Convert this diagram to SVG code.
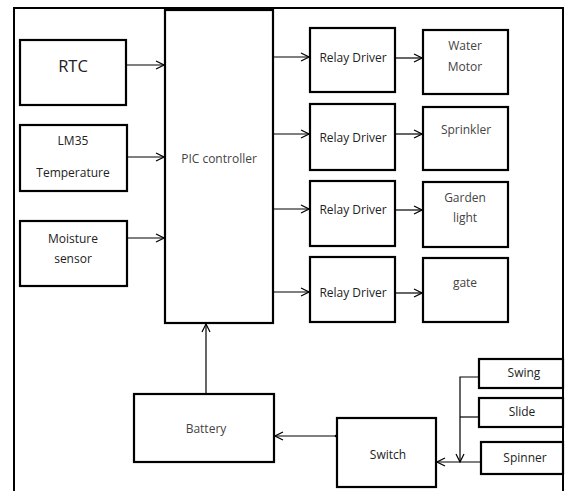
<svg xmlns="http://www.w3.org/2000/svg" width="565" height="491" viewBox="0 0 565 491">
<defs>
<style>
.box{fill:#fff;stroke:#000;stroke-width:2.2}
.t{font-family:"Open Sans","Liberation Sans",sans-serif;font-size:12px;fill:#222;text-anchor:middle}
.g{fill:#444}
.c{fill:none;stroke:#000;stroke-width:1.2}
</style>
<marker id="a" markerWidth="10" markerHeight="10" refX="9" refY="5" orient="auto" markerUnits="userSpaceOnUse">
<polyline points="1,1 9,5 1,9" fill="none" stroke="#000" stroke-width="1.2"/>
</marker>
</defs>
<rect width="565" height="491" fill="#fff"/>
<polyline points="14,491 14,8 563,8 563,491" fill="none" stroke="#000" stroke-width="2"/>

<g id="rtc"><rect class="box" x="20" y="40" width="106" height="65"/><text class="t" x="73" y="72" style="font-size:16.5px">RTC</text></g>
<g id="lm35"><rect class="box" x="20" y="125" width="107" height="66"/><text class="t" x="73" y="145">LM35</text><text class="t" x="73" y="177">Temperature</text></g>
<g id="moisture"><rect class="box" x="20" y="221" width="107" height="65"/><text class="t" x="73" y="243">Moisture</text><text class="t" x="73" y="263">sensor</text></g>
<g id="pic"><rect class="box" x="165" y="10" width="108" height="313"/><text class="t g" x="219" y="163">PIC controller</text></g>

<g id="relay1"><rect class="box" x="310" y="28" width="85" height="64"/><text class="t" x="353" y="62">Relay Driver</text></g>
<g id="relay2"><rect class="box" x="310" y="104" width="85" height="66"/><text class="t" x="353" y="142">Relay Driver</text></g>
<g id="relay3"><rect class="box" x="310" y="181" width="85" height="65"/><text class="t" x="353" y="214">Relay Driver</text></g>
<g id="relay4"><rect class="box" x="310" y="257" width="85" height="65"/><text class="t" x="353" y="297">Relay Driver</text></g>

<g id="water"><rect class="box" x="423" y="30" width="85" height="64"/><text class="t g" x="465" y="50">Water</text><text class="t g" x="465" y="71">Motor</text></g>
<g id="sprinkler"><rect class="box" x="423" y="107" width="85" height="63"/><text class="t g" x="466" y="134">Sprinkler</text></g>
<g id="garden"><rect class="box" x="423" y="182" width="85" height="65"/><text class="t g" x="465" y="202">Garden</text><text class="t g" x="465" y="222">light</text></g>
<g id="gate"><rect class="box" x="423" y="258" width="85" height="64"/><text class="t g" x="465" y="287">gate</text></g>

<g id="battery"><rect class="box" x="134" y="394" width="140" height="68"/><text class="t g" x="206" y="433">Battery</text></g>
<g id="switch"><rect class="box" x="337" y="418" width="99" height="69"/><text class="t" x="388" y="459">Switch</text></g>
<g id="swing"><rect class="box" x="479" y="359" width="84" height="29"/><text class="t" x="524" y="377">Swing</text></g>
<g id="slide"><rect class="box" x="479" y="398" width="84" height="29"/><text class="t" x="522" y="416">Slide</text></g>
<g id="spinner"><rect class="box" x="481" y="442" width="82" height="32"/><text class="t" x="525" y="462">Spinner</text></g>

<g id="connectors">
<line class="c" x1="126" y1="65" x2="164" y2="65" marker-end="url(#a)"/>
<line class="c" x1="127" y1="157" x2="164" y2="157" marker-end="url(#a)"/>
<line class="c" x1="127" y1="238" x2="164" y2="238" marker-end="url(#a)"/>
<line class="c" x1="273" y1="57" x2="309" y2="57" marker-end="url(#a)"/>
<line class="c" x1="273" y1="134" x2="309" y2="134" marker-end="url(#a)"/>
<line class="c" x1="273" y1="209" x2="309" y2="209" marker-end="url(#a)"/>
<line class="c" x1="273" y1="292" x2="309" y2="292" marker-end="url(#a)"/>
<line class="c" x1="395" y1="58" x2="422" y2="58" marker-end="url(#a)"/>
<line class="c" x1="395" y1="134" x2="422" y2="134" marker-end="url(#a)"/>
<line class="c" x1="395" y1="210" x2="422" y2="210" marker-end="url(#a)"/>
<line class="c" x1="395" y1="293" x2="422" y2="293" marker-end="url(#a)"/>
<line class="c" x1="206" y1="394" x2="206" y2="324" marker-end="url(#a)"/>
<line class="c" x1="337" y1="436" x2="275" y2="436" marker-end="url(#a)"/>
<circle cx="336" cy="436" r="1.3" fill="#000"/>
<polyline class="c" points="479,377 460,377 460,462" marker-end="url(#a)"/>
<line class="c" x1="460" y1="417" x2="479" y2="417"/>
<line class="c" x1="481" y1="462" x2="437" y2="462" marker-end="url(#a)"/>
</g>
</svg>
